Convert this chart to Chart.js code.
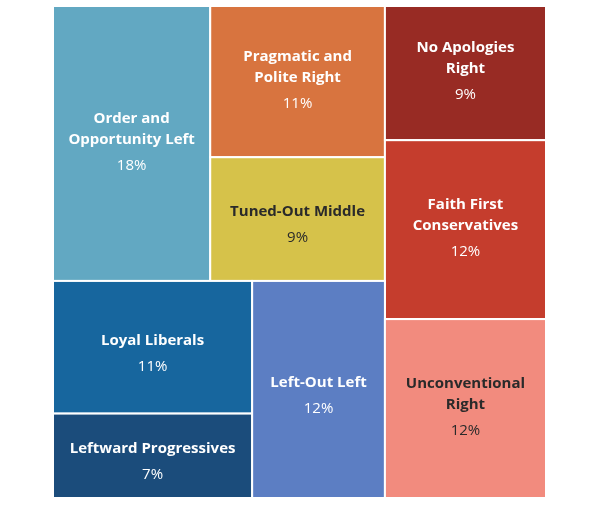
<!DOCTYPE html>
<html>
<head>
<meta charset="utf-8">
<script src="https://cdn.jsdelivr.net/npm/chart.js@4"></script>
<style>
  body { margin: 0; background: #fff; }
  #wrap { width: 600px; height: 506px; }
</style>
</head>
<body>
<div id="wrap"><canvas id="tree"></canvas></div>
<script>
// Segments, shares (%) and colours
const labels = ["Order and|Opportunity Left", "Pragmatic and|Polite Right", "No Apologies|Right",
  "Tuned-Out Middle", "Faith First|Conservatives", "Loyal Liberals",
  "Leftward Progressives", "Left-Out Left", "Unconventional|Right"];
const values = [18, 11, 9, 9, 12, 11, 7, 12, 12];
const colors = ["#62a8c2", "#d8743f", "#982b24", "#d6c24a", "#c53d2d", "#17669e",
  "#1b4c7b", "#5c7ec3", "#f28b7e"];
const darkText = [3, 8];

// Slice-and-dice grouping: h = split side by side, v = stack top to bottom
const layoutTree = { dir: "h", children: [
  { dir: "v", children: [
    { dir: "h", children: [0, { dir: "v", children: [1, 3] }] },
    { dir: "h", children: [{ dir: "v", children: [5, 6] }, 7] }
  ] },
  { dir: "v", children: [2, 4, 8] }
] };

function total(node) {
  if (typeof node === "number") return values[node];
  return node.children.reduce((s, c) => s + total(c), 0);
}

function layout(node, x, y, w, h, out) {
  if (typeof node === "number") { out[node] = { x, y, w, h }; return; }
  const sum = total(node);
  let off = 0;
  node.children.forEach(c => {
    const f = total(c) / sum;
    if (node.dir === "h") layout(c, x + off * w, y, w * f, h, out);
    else layout(c, x, y + off * h, w, h * f, out);
    off += f;
  });
}

const rects = [];
layout(layoutTree, 0, 0, 100, 100, rects);

// 🧱 Draw the cells through the chart's scales
const treemapPlugin = {
  id: "treemap",
  afterDatasetsDraw(chart) {
    const ctx = chart.ctx;
    const xs = chart.scales.x, ys = chart.scales.y;
    rects.forEach((r, i) => {
      const x0 = xs.getPixelForValue(r.x), x1 = xs.getPixelForValue(r.x + r.w);
      const y0 = ys.getPixelForValue(r.y), y1 = ys.getPixelForValue(r.y + r.h);
      ctx.save();
      ctx.fillStyle = colors[i];
      ctx.fillRect(x0, y0, x1 - x0, y1 - y0);
      ctx.strokeStyle = "#fff";
      ctx.lineWidth = 2;
      ctx.strokeRect(x0, y0, x1 - x0, y1 - y0);

      const lines = labels[i].split("|");
      const lh = 21;
      const cx = (x0 + x1) / 2;
      const ty = (y0 + y1) / 2 - (lines.length > 1 ? 25 : 7);
      ctx.fillStyle = darkText.includes(i) ? "#2a2a2a" : "#fff";
      ctx.textAlign = "center";
      ctx.textBaseline = "middle";
      ctx.font = "bold 15px 'Open Sans', sans-serif";
      lines.forEach((l, k) => ctx.fillText(l, cx, ty + k * lh));
      ctx.font = "15px 'Open Sans', sans-serif";
      ctx.fillText(values[i] + "%", cx, ty + (lines.length - 1) * lh + 26);
      ctx.restore();
    });
  }
};

new Chart(document.getElementById("tree"), {
  type: "scatter",
  data: { datasets: [] },
  options: {
    responsive: true,
    maintainAspectRatio: false,
    animation: false,
    layout: { padding: { left: 53, right: 54, top: 6, bottom: 8 } },
    plugins: { legend: { display: false }, tooltip: { enabled: false } },
    scales: {
      x: { type: "linear", min: 0, max: 100, display: false },
      y: { type: "linear", min: 0, max: 100, reverse: true, display: false }
    }
  },
  plugins: [treemapPlugin]
});
</script>
</body>
</html>
